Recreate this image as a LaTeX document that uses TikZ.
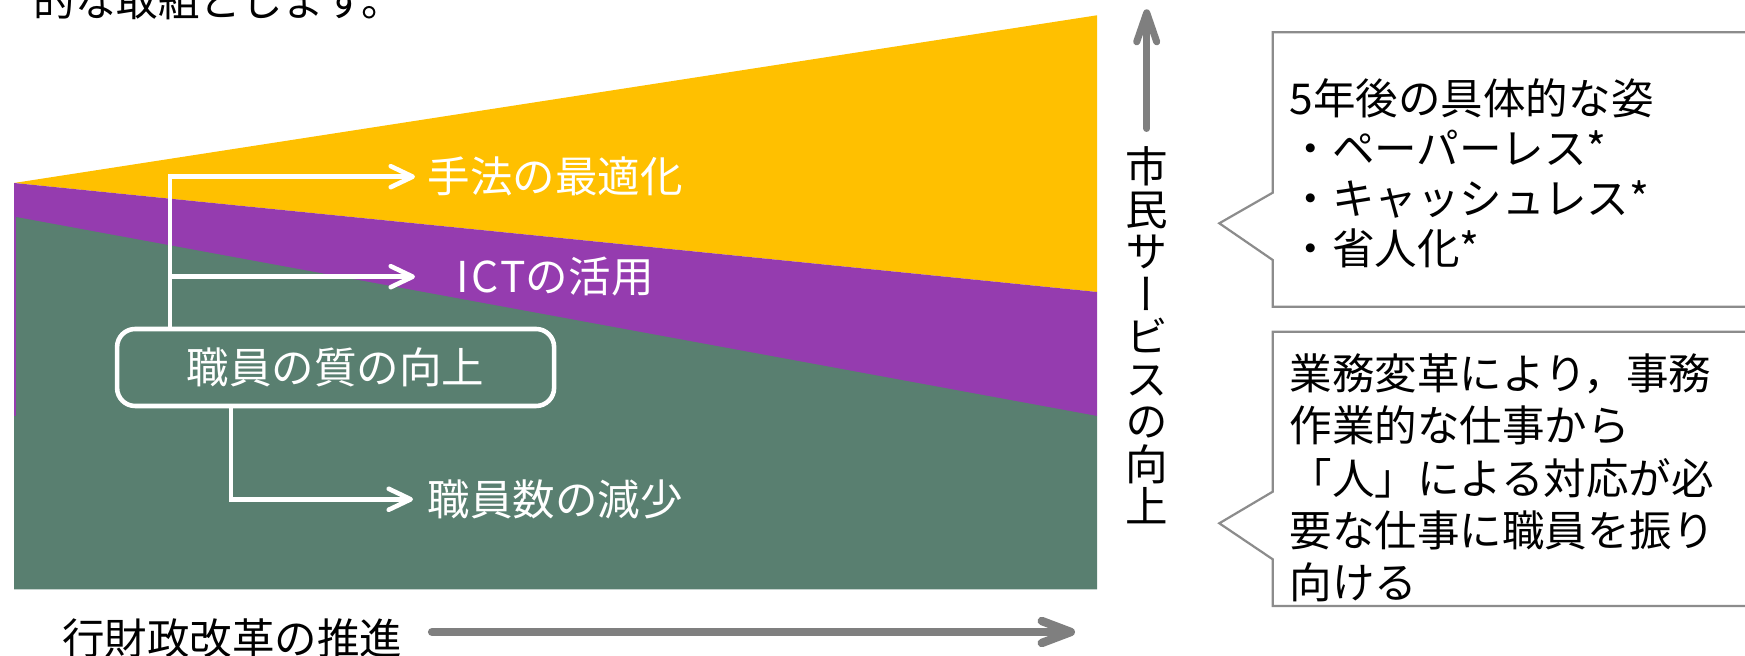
\documentclass[tikz,border=0pt]{standalone}
\usepackage{fontspec}
\setmainfont{Noto Sans CJK JP}
\newfontfamily\jpv{Noto Sans CJK JP}[RawFeature=+vert]
\usetikzlibrary{arrows.meta}
\definecolor{cy}{RGB}{255,192,0}
\definecolor{cp}{RGB}{149,60,175}
\definecolor{cg}{RGB}{89,127,112}
\definecolor{ca}{RGB}{127,127,127}
\definecolor{cb}{RGB}{140,140,140}
\begin{document}
\begin{tikzpicture}[x=0.1mm,y=-0.1mm,
  jp/.style={font=\fontsize{12.1pt}{14.5pt}\selectfont},
  wtext/.style={jp, text=white, anchor=west, inner ysep=0pt},
  warr/.style={draw=white, line width=1.3pt, -{Straight Barb[length=2.2mm,width=2.1mm,round]}},
  garrv/.style={draw=ca, line width=2pt, line cap=round, -{Straight Barb[length=2.9mm,width=2mm,round]}},
  garrh/.style={draw=ca, line width=2.4pt, line cap=round, -{Straight Barb[length=2.9mm,width=2.2mm,round]}},
  callout/.style={draw=cb, fill=white, line width=0.63pt},
  btext/.style={text=black, anchor=north west, inner sep=0pt, align=left}
]
\useasboundingbox (0,0) rectangle (1745,656);
\clip (0,0) rectangle (1745,656);
% bands
\fill[cy] (14,183) -- (1097,15.3) -- (1097,292) -- cycle;
\fill[cp] (14,183) -- (1097,292) -- (1097,416) -- (14,416) -- cycle;
\fill[cg] (16,217) -- (1097,416) -- (1097,589.3) -- (14,589.3) -- (14,416) -- (16,416) -- cycle;
% top partial text
\node[font=\fontsize{11.8pt}{14pt}\selectfont, anchor=base west, inner sep=0pt] (tt) at (33,17) {的な取組とします。};
% white box and texts
\node[draw=white, line width=1.3pt, rounded corners=1.8mm, minimum width=4.37cm, minimum height=0.77cm, inner sep=0pt, jp, text=white] (qb) at (335.6,367.5) {職員の質の向上};
\node[wtext, inner xsep=1.2mm] (t1) at (415,176.7) {手法の最適化};
\node[wtext, inner xsep=4.1mm] (t2) at (415,276.7) {I\kern0.6pt C\kern0.6pt Tの活用};
\node[wtext, inner xsep=1.4mm] (t3) at (413,499.3) {職員数の減少};
\coordinate (vx) at (170,0);
\coordinate (vy) at (231,0);
\draw[warr] (qb.north -| vx) |- (t1.west);
\draw[warr] (qb.north -| vx) |- (t2.west);
\draw[warr] (qb.south -| vy) |- (t3.west);
% vertical axis
\node[font={\jpv\fontsize{12.1pt}{12.1pt}\selectfont\lineskiplimit=-20pt}, anchor=north, inner sep=0pt, align=center] (vt) at (1146.7,146) {市\\民\\サ\\ー\\ビ\\ス\\の\\向\\上};
\coordinate (vtip) at (1146.7,9.3);
\draw[garrv, shorten <=1.75mm] (vt.north) -- (vtip);
% horizontal axis
\node[jp, anchor=base west, inner sep=0pt] (bt) at (61.5,655) {行財政改革の推進};
\coordinate (htip) at (1075,632);
\draw[garrh, shorten <=2.9mm] (bt.east |- htip) -- (htip);
% callouts
\draw[callout] (1760,32.3) -- (1272.7,32.3) -- (1272.7,192.7) -- (1219.3,223.3) -- (1272.7,260) -- (1272.7,306.7) -- (1760,306.7);
\draw[callout] (1760,331.7) -- (1272.7,331.7) -- (1272.7,491.7) -- (1219.3,523.3) -- (1272.7,559.3) -- (1272.7,606) -- (1760,606);
\node[btext, font=\fontsize{12.1pt}{14.2pt}\selectfont] (b1) at (1289,78) {5年後の具体的な姿\\・ペーパーレス*\\・キャッシュレス*\\・省人化*};
\node[btext, font=\fontsize{12.1pt}{14.9pt}\selectfont] (b2) at (1289,353) {業務変革により，事務\\作業的な仕事から\\「人」による対応が必\\要な仕事に職員を振り\\向ける};
\end{tikzpicture}
\end{document}
